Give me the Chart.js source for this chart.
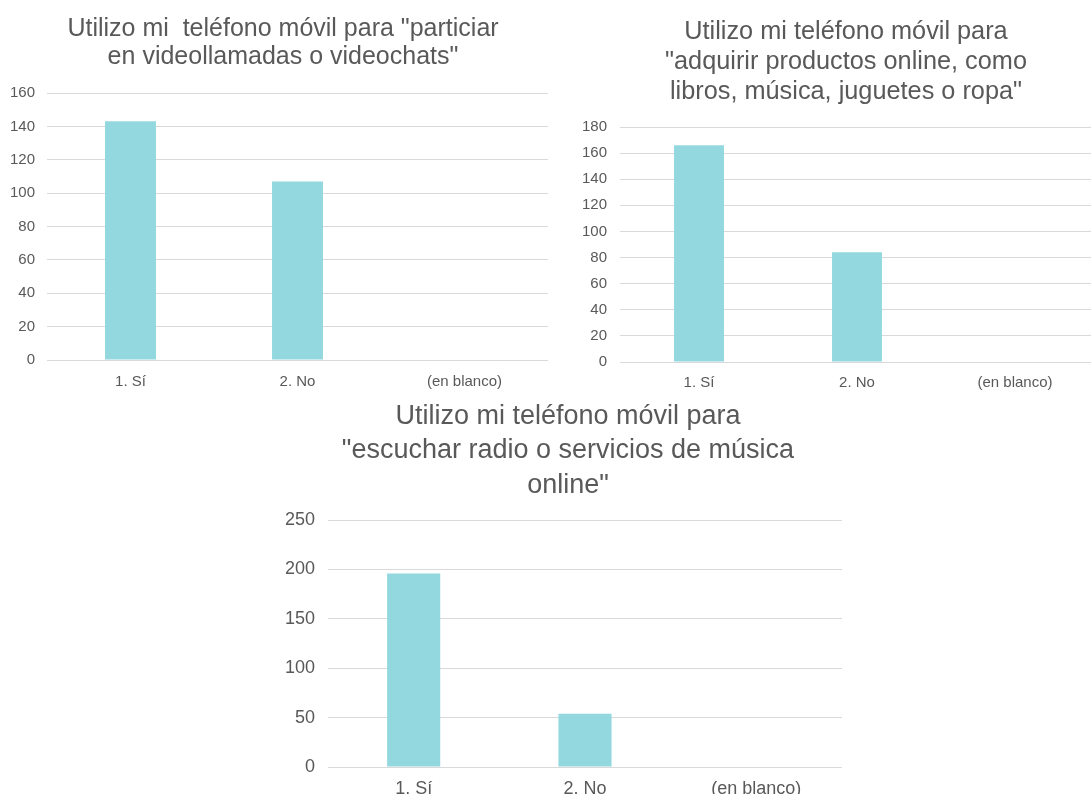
<!DOCTYPE html>
<html>
<head>
<meta charset="utf-8">
<script src="https://cdn.jsdelivr.net/npm/chart.js@4"></script>
<style>
  html, body { margin: 0; padding: 0; background: #ffffff; overflow: hidden; width: 1091px; height: 794px; }
  .caja { position: absolute; }
</style>
</head>
<body>
<div class="caja" style="left:0px; top:0px; width:566px; height:400px;"><canvas id="graf1"></canvas></div>
<div class="caja" style="left:560px; top:0px; width:572px; height:400px;"><canvas id="graf2"></canvas></div>
<div class="caja" style="left:250px; top:390px; width:636px; height:404px;"><canvas id="graf3"></canvas></div>
<script>
// datos
const categorias = ['1. Sí', '2. No', '(en blanco)'];
const videollamadas = [143, 107, null];
const comprasOnline = [166, 84, null];
const musicaOnline = [196, 54, null];

const titulo1 = ['Utilizo mi  teléfono móvil para "particiar', 'en videollamadas o videochats"'];
const titulo2 = ['Utilizo mi teléfono móvil para', '"adquirir productos online, como', 'libros, música, juguetes o ropa"'];
const titulo3 = ['Utilizo mi teléfono móvil para', '"escuchar radio o servicios de música', 'online"'];

const maxY = [160, 180, 250];
const pasoY = [20, 20, 50];

const gris = '#595959';
const rejilla = '#d9d9d9';
const turquesa = '#93d8df';
const fuente = '"Liberation Sans", Arial, Helvetica, sans-serif';

function crearGrafico(id, valores, titulo, max, paso, c) {
    const ctx = document.getElementById(id).getContext('2d');
    return new Chart(ctx, {
        type: 'bar',
        data: {
            labels: categorias,
            datasets: [{
                data: valores,
                backgroundColor: turquesa,
                borderWidth: 0,
                categoryPercentage: 1,
                barPercentage: c.barra
            }]
        },
        options: {
            responsive: true,
            maintainAspectRatio: false,
            animation: false,
            layout: { padding: 0 },
            scales: {
                x: {
                    grid: { display: false },
                    border: { display: false },
                    ticks: { color: gris, font: { family: fuente, size: c.tick }, padding: c.padX, maxRotation: 0 },
                    afterFit: (s) => { s.height = c.altoX; }
                },
                y: {
                    min: 0,
                    max: max,
                    grid: { color: rejilla, lineWidth: 1, drawTicks: false },
                    border: { display: false },
                    ticks: { stepSize: paso, color: gris, font: { family: fuente, size: c.tick }, padding: c.padY },
                    afterFit: (s) => { s.width = c.anchoY; }
                },
                // margen derecho vacio (asi el titulo queda centrado en todo el lienzo)
                margen: {
                    type: 'linear',
                    position: 'right',
                    display: true,
                    grid: { display: false },
                    border: { display: false },
                    ticks: { display: false },
                    afterFit: (s) => { s.width = c.derecha; }
                }
            },
            plugins: {
                legend: { display: false },
                tooltip: { enabled: false },
                title: {
                    display: true,
                    text: titulo,
                    color: gris,
                    font: { family: fuente, size: c.tam, weight: 'normal', lineHeight: c.linea },
                    padding: { top: c.tituloArriba, bottom: c.tituloAbajo }
                }
            }
        }
    });
}

crearGrafico('graf1', videollamadas, titulo1, maxY[0], pasoY[0],
    { barra: 0.305, derecha: 18, tick: 15, padX: 5, altoX: 40, padY: 12, anchoY: 47, tam: 25, linea: 1.12, tituloArriba: 15, tituloAbajo: 22 });
crearGrafico('graf2', comprasOnline, titulo2, maxY[1], pasoY[1],
    { barra: 0.316, derecha: 38, tick: 15, padX: 4, altoX: 38, padY: 13, anchoY: 60, tam: 25.3, linea: 1.186, tituloArriba: 17, tituloAbajo: 20 });
crearGrafico('graf3', musicaOnline, titulo3, maxY[2], pasoY[2],
    { barra: 0.31, derecha: 44, tick: 18, padX: 3, altoX: 27, padY: 13, anchoY: 78, tam: 27, linea: 1.26, tituloArriba: 10, tituloAbajo: 18 });
</script>
</body>
</html>
